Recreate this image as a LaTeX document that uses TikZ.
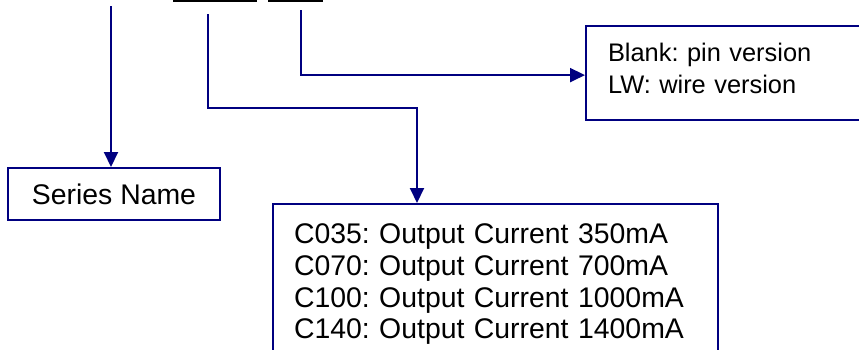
\documentclass[tikz,border=0pt]{standalone}
\usepackage{fontspec}
\setmainfont{Liberation Sans}
\frenchspacing
\definecolor{codenavy}{RGB}{0,0,128}
\usetikzlibrary{arrows.meta,positioning}

\begin{document}
\begin{tikzpicture}[x=1pt, y=-1pt,
    infobox/.style={rectangle, draw=codenavy, line width=2pt, align=left, anchor=north west,
      font=\fontsize{28.4}{31.7}\selectfont},
    codeline/.style={-{Triangle[length=15pt, width=14pt]}, line width=2pt, codenavy}
  ]
    \useasboundingbox (0,0) rectangle (859,349);
    \clip (0,0) rectangle (859,349);
    % underlines of the part code (cut off at the top)
    \draw[line width=2pt] (173,1) -- (257,1);
    \draw[line width=2pt] (268,1) -- (323,1);
    \coordinate (series) at (111,6);
    \coordinate (current) at (208,14);
    \coordinate (version) at (301,10);
    \node[infobox, align=center, minimum width=212pt, minimum height=52pt] (sname) at (7,167) {Series Name};
    \node[infobox, text width=403pt, inner xsep=21pt, inner ysep=20pt] (cur) at (272,203)
      {C035: Output Current 350mA\\C070: Output Current 700mA\\C100: Output Current 1000mA\\C140: Output Current 1400mA};
    \node[infobox, font=\fontsize{25.4}{32}\selectfont, text width=300pt, inner xsep=22pt, inner ysep=17.5pt,
      text depth=40.8pt] (ver) at (585,25)
      {Blank: pin version\\LW: wire version};
    \draw[codeline] (series) -- (series |- sname.north);
    \draw[codeline] (current) |- ([xshift=145pt, yshift=95pt]cur.north west) -- ([xshift=145pt]cur.north west);
    \draw[codeline] (version) |- ([yshift=-2pt]ver.west);
  \end{tikzpicture}
\end{document}
